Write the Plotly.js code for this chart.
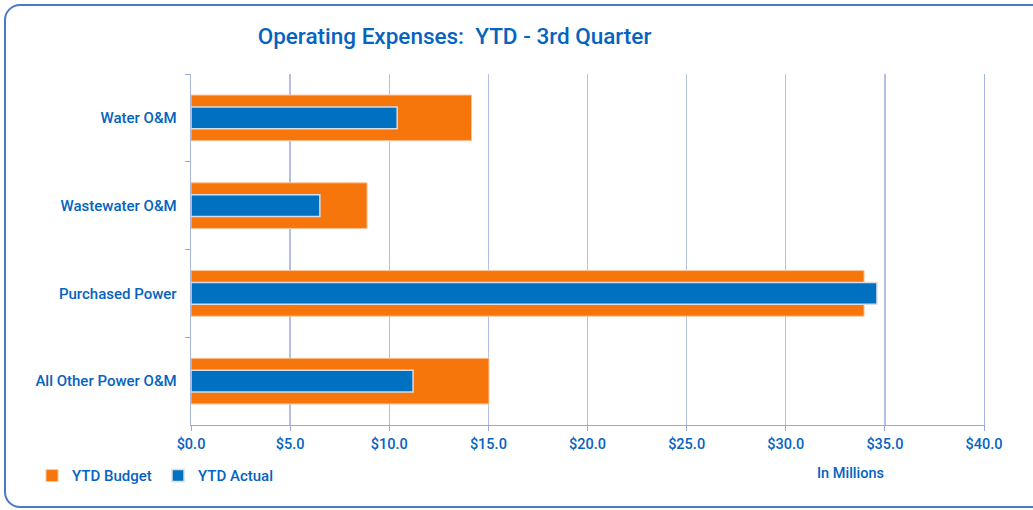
<!DOCTYPE html>
<html>
<head>
<meta charset="utf-8">
<script src="https://cdn.plot.ly/plotly-3.0.1.min.js"></script>
<style>
html,body{margin:0;padding:0;background:#fff;}
#wrap{position:relative;width:1033px;height:510px;overflow:hidden;background:#fff;}
#frame{position:absolute;left:4px;top:4px;width:1060px;height:504px;border:2.5px solid #4A78CC;border-radius:16px;box-sizing:border-box;}
#chart{position:absolute;left:0;top:0;width:1033px;height:510px;}
</style>
</head>
<body>
<div id="wrap"><div id="frame"></div><div id="chart"></div></div>
<script>
const categories = ["Water O&M", "Wastewater O&M", "Purchased Power", "All Other Power O&M"];
const budget = [14.15, 8.88, 33.95, 15.03];
const actual = [10.4, 6.5, 34.6, 11.2];
const tickVals = [0, 5, 10, 15, 20, 25, 30, 35, 40];
const tickText = ["$0.0", "$5.0", "$10.0", "$15.0", "$20.0", "$25.0", "$30.0", "$35.0", "$40.0"];

const blue = "#0563C1";
const fontFam = "Roboto, 'Liberation Sans', sans-serif";

const traces = [
  {type: "bar", orientation: "h", name: "YTD Budget", y: categories, x: budget, width: 0.52,
   marker: {color: "#F7760B", line: {color: "#FBC59A", width: 1}}, hoverinfo: "x+y"},
  {type: "bar", orientation: "h", name: "YTD Actual", y: categories, x: actual, width: 0.25,
   marker: {color: "#0070C0", line: {color: "#D6DCE8", width: 1.5}}, hoverinfo: "x+y"}
];

const layout = {
  width: 1033, height: 510,
  paper_bgcolor: "rgba(0,0,0,0)", plot_bgcolor: "rgba(0,0,0,0)",
  margin: {l: 191, r: 49, t: 74, b: 85},
  barmode: "overlay",
  showlegend: true,
  title: {text: "Operating Expenses:  YTD - 3rd Quarter", x: 0.44, xanchor: "center", y: 0.929, yanchor: "middle",
          font: {family: fontFam, size: 22.5, color: blue, weight: 500}},
  font: {family: fontFam, color: blue},
  xaxis: {range: [0, 40], tickvals: tickVals, ticktext: tickText, showgrid: true, gridcolor: "#B4BFE6", gridwidth: 1.3,
          zeroline: false, showline: true, linecolor: "#9AAAD8", linewidth: 1.3, ticks: "outside", ticklen: 5, tickcolor: "#9AAAD8",
          tickfont: {size: 14.5, color: blue, weight: 500}, fixedrange: true, automargin: false},
  yaxis: {type: "category", categoryorder: "array", categoryarray: categories, autorange: "reversed",
          showgrid: false, showline: true, mirror: true, linecolor: "#A8B5E0", linewidth: 1.3, ticks: "outside", ticklen: 5, tickcolor: "#9AAAD8",
          tickson: "boundaries", ticklabelstandoff: 10, automargin: false,
          tickfont: {size: 15, color: blue, weight: 500}, fixedrange: true},
  legend: {orientation: "h", xref: "container", yref: "container", x: 0.031, xanchor: "left", y: 0.067, yanchor: "middle",
           font: {size: 15, color: blue, weight: 500}, itemwidth: 30, traceorder: "normal", entrywidth: 81},
  annotations: [{text: "In Millions", xref: "paper", yref: "paper", x: 0.832, y: -0.137, xanchor: "center", yanchor: "middle",
                 showarrow: false, font: {size: 14.5, color: blue, weight: 500, family: fontFam}}]
};

Plotly.newPlot("chart", traces, layout, {displayModeBar: false, staticPlot: true});
</script>
</body>
</html>
